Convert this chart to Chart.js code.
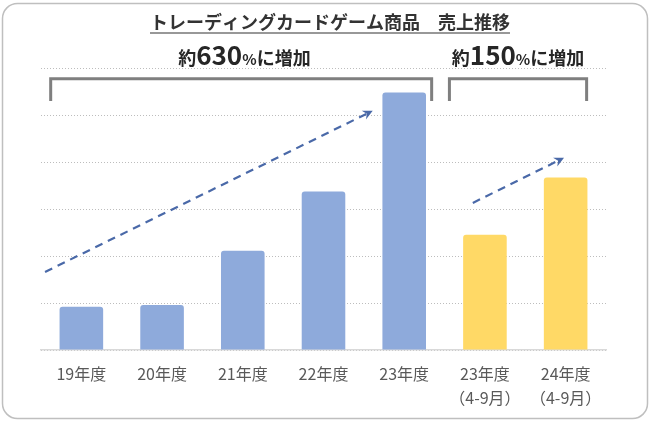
<!DOCTYPE html>
<html lang="ja">

<head>
    <meta charset="UTF-8">
    <title>トレーディングカードゲーム商品 売上推移</title>
    <style>
        body { margin: 0; background: #fff; }
        #wrap { width: 650px; height: 423px; position: relative; }
    </style>
</head>

<body>
    <div id="wrap">
        <canvas id="grafico"></canvas>
    </div>

    <script src="https://cdn.jsdelivr.net/npm/chart.js"></script>
    <script>
        // datos (unidades = una linea de la cuadricula)
        const categorias = [
            ['19年度'], ['20年度'], ['21年度'], ['22年度'], ['23年度'],
            ['23年度', '（4-9月）'], ['24年度', '（4-9月）']
        ]
        const ventasAnuales = [0.92, 0.96, 2.11, 3.37, 5.48, null, null]
        const ventasSemestre = [null, null, null, null, null, 2.45, 3.67]
        const titulo = 'トレーディングカードゲーム商品　売上推移'
        const aumentos = [
            { pre: '約', num: '630', post: '%', tail: 'に増加', x: 2.02 },
            { pre: '約', num: '150', post: '%', tail: 'に増加', x: 5.41 }
        ]
        // flechas y corchetes en coordenadas de datos [indice, valor]
        const flechas = [
            [[-0.45, 1.66], [3.61, 5.09]],
            [[4.85, 3.13], [5.98, 4.09]]
        ]
        const corchetes = [
            [-0.38, 4.34],
            [4.56, 6.26]
        ]

        const fuente = "'Noto Sans CJK JP', 'Noto Sans', sans-serif"

        const extras = {
            id: 'extras',
            beforeDraw(chart) {
                const ctx = chart.ctx
                ctx.save()
                ctx.strokeStyle = '#bfbfbf'
                ctx.lineWidth = 1.5
                ctx.beginPath()
                ctx.roundRect(2.5, 3.5, 645, 415, 15)
                ctx.stroke()
                ctx.restore()
            },
            afterDatasetsDraw(chart) {
                const ctx = chart.ctx
                const xs = chart.scales.x
                const ys = chart.scales.y
                const px = v => xs.getPixelForValue(v)
                const py = v => ys.getPixelForValue(v)

                ctx.save()
                // titulo subrayado
                ctx.font = 'bold 18px ' + fuente
                ctx.fillStyle = '#333'
                ctx.textAlign = 'center'
                ctx.textBaseline = 'alphabetic'
                ctx.fillText(titulo, 330, 29)
                let w = ctx.measureText(titulo).width
                ctx.strokeStyle = '#333'
                ctx.lineWidth = 1.2
                ctx.beginPath()
                ctx.moveTo(330 - w / 2, 33)
                ctx.lineTo(330 + w / 2, 33)
                ctx.stroke()

                // textos de aumento
                aumentos.forEach(a => {
                    const partes = [
                        [a.pre, 'bold 18px '],
                        [a.num, 'bold 26px '],
                        [a.post, 'bold 15px '],
                        [a.tail, 'bold 18px ']
                    ]
                    let total = 0
                    partes.forEach(p => { ctx.font = p[1] + fuente; total += ctx.measureText(p[0]).width })
                    let x = px(a.x) - total / 2
                    ctx.textAlign = 'left'
                    ctx.fillStyle = '#262626'
                    partes.forEach(p => {
                        ctx.font = p[1] + fuente
                        ctx.fillText(p[0], x, 65)
                        x += ctx.measureText(p[0]).width
                    })
                })

                // corchetes
                ctx.strokeStyle = '#7f7f7f'
                ctx.lineWidth = 3
                ctx.lineJoin = 'miter'
                corchetes.forEach(c => {
                    ctx.beginPath()
                    ctx.moveTo(px(c[0]), py(5.3))
                    ctx.lineTo(px(c[0]), py(5.77))
                    ctx.lineTo(px(c[1]), py(5.77))
                    ctx.lineTo(px(c[1]), py(5.3))
                    ctx.stroke()
                })

                // flechas discontinuas
                flechas.forEach(f => {
                    const x0 = px(f[0][0]), y0 = py(f[0][1])
                    const x1 = px(f[1][0]), y1 = py(f[1][1])
                    const ang = Math.atan2(y1 - y0, x1 - x0)
                    const largo = 11
                    ctx.strokeStyle = '#4a69a8'
                    ctx.fillStyle = '#4a69a8'
                    ctx.lineWidth = 2.2
                    ctx.setLineDash([8, 6])
                    ctx.beginPath()
                    ctx.moveTo(x0, y0)
                    ctx.lineTo(x1 - Math.cos(ang) * largo * 0.6, y1 - Math.sin(ang) * largo * 0.6)
                    ctx.stroke()
                    ctx.setLineDash([])
                    ctx.beginPath()
                    ctx.moveTo(x1, y1)
                    ctx.lineTo(x1 - Math.cos(ang - 0.45) * largo, y1 - Math.sin(ang - 0.45) * largo)
                    ctx.lineTo(x1 - Math.cos(ang) * largo * 0.6, y1 - Math.sin(ang) * largo * 0.6)
                    ctx.lineTo(x1 - Math.cos(ang + 0.45) * largo, y1 - Math.sin(ang + 0.45) * largo)
                    ctx.closePath()
                    ctx.fill()
                })
                ctx.restore()
            }
        }

        let canvaDom = document.querySelector('#grafico')

        new Chart(canvaDom, {
            type: 'bar',
            data: {
                labels: categorias,
                datasets: [{
                    label: '年度',
                    data: ventasAnuales,
                    backgroundColor: '#8eaadb',
                    borderRadius: 3,
                    borderSkipped: 'bottom'
                }, {
                    label: '4-9月',
                    data: ventasSemestre,
                    backgroundColor: '#ffd966',
                    borderRadius: 3,
                    borderSkipped: 'bottom'
                }]
            },
            options: {
                responsive: true,
                maintainAspectRatio: false,
                animation: false,
                layout: { padding: { left: 41, right: 44, top: 68, bottom: 0 } },
                datasets: { bar: { barPercentage: 0.54, categoryPercentage: 1 } },
                plugins: {
                    legend: { display: false },
                    tooltip: { enabled: false }
                },
                scales: {
                    x: {
                        stacked: true,
                        grid: { display: false },
                        border: { display: true, color: '#d9d9d9', width: 1.5 },
                        ticks: {
                            color: '#595959',
                            padding: 4,
                            maxRotation: 0,
                            autoSkip: false,
                            font: { family: fuente, size: 16, lineHeight: 24 / 16 }
                        },
                        afterFit: scale => { scale.height = 73 }
                    },
                    y: {
                        stacked: true,
                        min: 0,
                        max: 6,
                        ticks: { display: false, stepSize: 1 },
                        border: { display: false, dash: [1, 2] },
                        grid: {
                            color: '#bdbdbd',
                            lineWidth: 1,
                            drawTicks: false
                        },
                        afterFit: scale => { scale.width = 0 }
                    }
                }
            },
            plugins: [extras]
        })
    </script>
</body>

</html>
